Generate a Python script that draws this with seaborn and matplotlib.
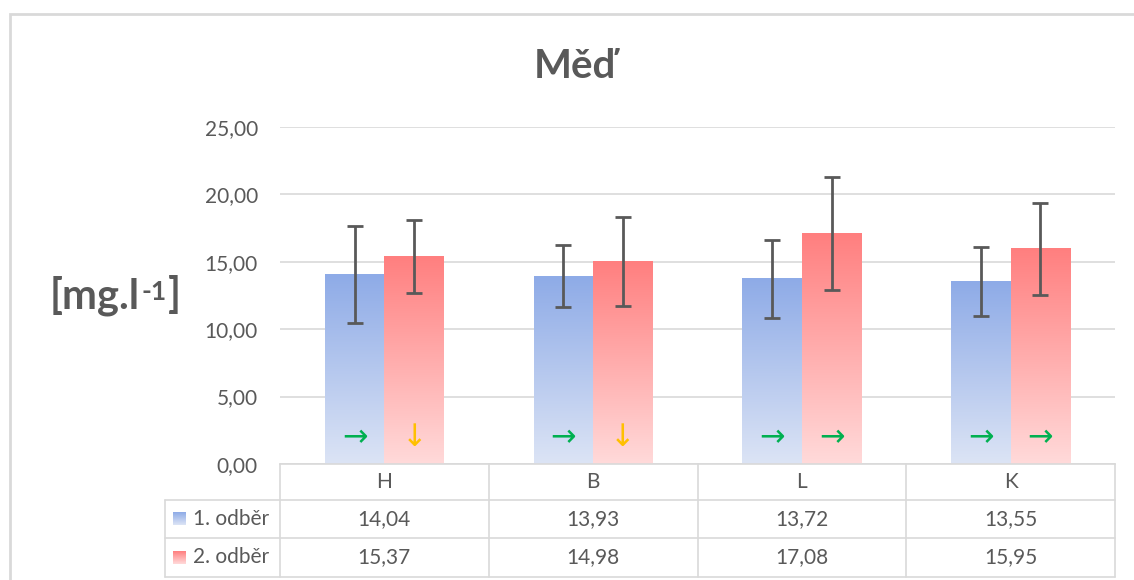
import numpy as np
import pandas as pd
import seaborn as sns
import matplotlib.pyplot as plt
import matplotlib.transforms as mtransforms
from matplotlib.colors import LinearSegmentedColormap
from matplotlib.patches import Rectangle

# data
mista = ['H', 'B', 'L', 'K']
odbery = ['1. odběr', '2. odběr']
odber1 = [14.04, 13.93, 13.72, 13.55]
odber2 = [15.37, 14.98, 17.08, 15.95]
chyba1 = [3.62, 2.28, 2.87, 2.57]
chyba2 = [2.70, 3.30, 4.18, 3.42]
sipky1 = ['→', '→', '→', '→']
sipky2 = ['↓', '↓', '→', '→']

dados = pd.DataFrame({
    'misto': mista * 2,
    'odber': [odbery[0]] * 4 + [odbery[1]] * 4,
    'hodnota': odber1 + odber2,
})

sns.set_style('white')
plt.rcParams['font.family'] = ['Lato', 'DejaVu Sans']
sedy = '#595959'
mrizka = '#D9D9D9'

fig = plt.figure(figsize=(11.34, 5.8), dpi=100)
ax = fig.add_axes([280 / 1134, 116 / 580, 835 / 1134, 337.3 / 580])

sns.barplot(data=dados, x='misto', y='hodnota', hue='odber', order=mista,
            hue_order=odbery, errorbar=None, width=0.57, gap=0,
            palette=['#8FACE8', '#FF8080'], legend=False, ax=ax)

# gradienty, chybove usecky a sipky
barvy = [('#DCE4F5', '#8EABE7'), ('#FFDADA', '#FF7F7F')]
chyby = [chyba1, chyba2]
hodnoty = [odber1, odber2]
sipky = [sipky1, sipky2]
sloupce = list(ax.containers)[:2]
for i, cont in enumerate(sloupce):
    cmap = LinearSegmentedColormap.from_list('g%d' % i, barvy[i])
    for j, bar in enumerate(cont):
        x0 = bar.get_x()
        w = bar.get_width()
        h = bar.get_height()
        ax.imshow(np.linspace(0, 1, 256).reshape(-1, 1), cmap=cmap, origin='lower',
                  extent=(x0, x0 + w, 0, h), aspect='auto', zorder=2)
        bar.set_visible(False)
        xc = x0 + w / 2
        ax.errorbar(xc, hodnoty[i][j], yerr=chyby[i][j], color=sedy, lw=2,
                    capsize=6, capthick=2, zorder=4)
        barva_sipky = '#00B050' if sipky[i][j] == '→' else '#FFC000'
        ax.text(xc, 1.95, sipky[i][j], ha='center', va='center', fontsize=22,
                color=barva_sipky, family='DejaVu Sans', zorder=5)

ax.set_xlim(-0.5, 3.5)
ax.set_ylim(0, 25)
ax.set_yticks(np.arange(0, 26, 5))
ax.set_yticklabels([('%.2f' % v).replace('.', ',') for v in np.arange(0, 26, 5)])
ax.tick_params(axis='y', length=0, pad=16, labelsize=15, labelcolor=sedy)
ax.set_xticks([])
ax.set_xlabel('')
ax.set_ylabel('')
ax.yaxis.grid(True, color=mrizka, lw=1.2)
ax.set_axisbelow(True)
for s in ['left', 'right', 'top']:
    ax.spines[s].set_visible(False)
ax.spines['bottom'].set_color(mrizka)
ax.spines['bottom'].set_linewidth(1.2)

# tabulka s daty
tr = mtransforms.blended_transform_factory(ax.transData, ax.transAxes)
xl = -1.051
radky = [-0.1067, -0.219, -0.335]
for y in radky:
    ax.plot([xl, 3.5], [y, y], color=mrizka, lw=1.2, transform=tr, clip_on=False)
for x in [-0.5, 0.5, 1.5, 2.5, 3.5]:
    ax.plot([x, x], [0, radky[-1]], color=mrizka, lw=1.2, transform=tr, clip_on=False)
ax.plot([xl, xl], [radky[0], radky[-1]], color=mrizka, lw=1.2, transform=tr, clip_on=False)

for k, m in enumerate(mista):
    ax.text(k, -0.053, m, ha='center', va='center', fontsize=15, color=sedy,
            transform=tr)
    for i in range(2):
        ax.text(k, [-0.163, -0.276][i], ('%.2f' % hodnoty[i][k]).replace('.', ','),
                ha='center', va='center', fontsize=15, color=sedy, transform=tr)

for i in range(2):
    yc = [-0.163, -0.276][i]
    cmap = LinearSegmentedColormap.from_list('k%d' % i, barvy[i])
    ax.imshow(np.linspace(0, 1, 64).reshape(-1, 1), cmap=cmap, origin='lower',
              extent=(-1.0126, -0.955, yc - 0.019, yc + 0.019), aspect='auto',
              transform=tr, clip_on=False, zorder=3)
    ax.text(-0.917, yc, odbery[i], ha='left', va='center', fontsize=15,
            color=sedy, transform=tr)

ax.set_xlim(-0.5, 3.5)
ax.set_ylim(0, 25)

# titulek a popisek osy
fig.text(575 / 1134, 1 - 66 / 580, 'Měď', ha='center', va='center',
         fontsize=29, fontweight='bold', color=sedy)
t1 = fig.text(50 / 1134, 1 - 296 / 580, '[mg.l', ha='left', va='center',
              fontsize=30, fontweight='bold', color=sedy)
t2 = plt.annotate('-1', xy=(1, 1), xycoords=t1, xytext=(1, -3),
                  textcoords='offset points', ha='left', va='top',
                  fontsize=19, fontweight='bold', color=sedy)
plt.annotate(']', xy=(1, 0.5), xycoords=(t2, t1), xytext=(1, 0),
             textcoords='offset points', ha='left', va='center',
             fontsize=30, fontweight='bold', color=sedy)

# ramecek
fig.patches.append(Rectangle((10 / 1134, -0.1), 1.2, 0.1 + 1 - 14 / 580,
                             transform=fig.transFigure, fill=False,
                             edgecolor=mrizka, lw=2))

fig.savefig('out.png', dpi=100)
